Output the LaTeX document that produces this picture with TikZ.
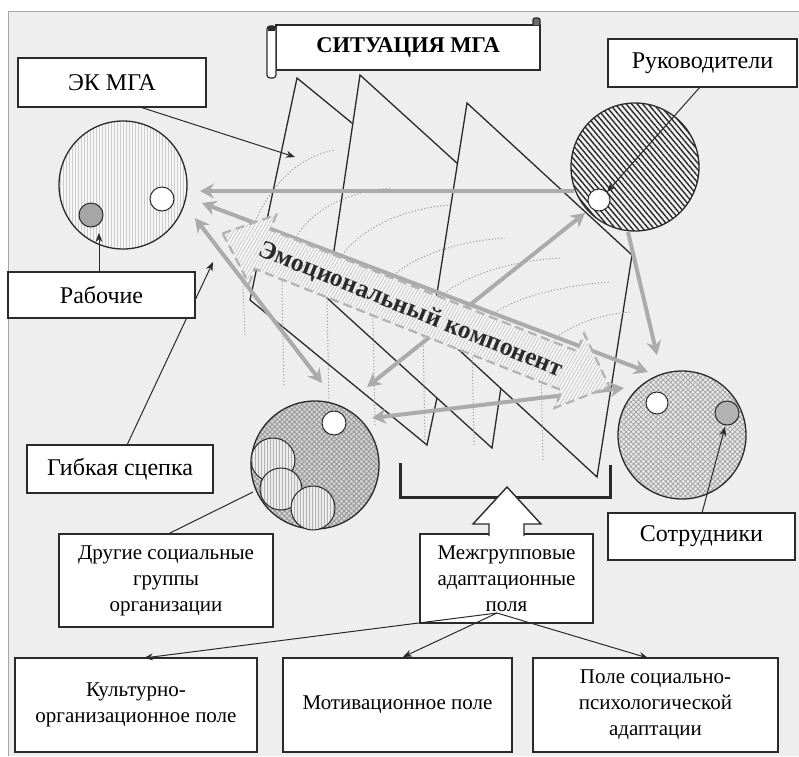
\documentclass[tikz,border=0pt]{standalone}
\usepackage{fontspec}
\setmainfont{Liberation Serif}
\usetikzlibrary{arrows.meta,patterns.meta,calc}
\definecolor{bg}{HTML}{EEEEEE}
\definecolor{ln}{HTML}{2A2A2A}
\definecolor{garr}{HTML}{ABABAB}
\begin{document}
\begin{tikzpicture}[x=1pt,y=-1pt,
  box/.style={draw=ln, line width=1.5pt, fill=white, inner sep=0pt, align=center, font=\fontsize{24}{28}\selectfont},
  mbox/.style={draw=ln, line width=1.5pt, fill=white, inner sep=0pt, align=center, font=\fontsize{21}{26}\selectfont},
  plane/.style={draw=ln, line width=1.3pt, fill=bg, line join=miter},
  wave/.style={draw=gray!75, line width=1pt, dash pattern=on 1.2pt off 2pt},
  garrow/.style={draw=garr, line width=4pt, -{Stealth[length=14pt,width=15pt]}},
  gdouble/.style={draw=garr, line width=4pt, {Stealth[length=14pt,width=15pt]}-{Stealth[length=14pt,width=15pt]}},
  blk/.style={draw=ln, line width=1pt, -{Stealth[length=9pt,width=7pt]}},
  bigcirc/.style={circle, draw=ln, line width=1.3pt, minimum size=128pt, inner sep=0pt},
  smallc/.style={circle, draw=ln, line width=1pt, inner sep=0pt},
]
\useasboundingbox (0,0) rectangle (799,756);
\fill[white] (0,0) rectangle (799,756);
\fill[bg] (8,11) rectangle (799,756);
\draw[gray!70, line width=0.8pt] (8,756) -- (8,11) -- (799,11);

% ---- planes
\draw[plane] (297,78) -- (474,223) -- (427,445) -- (250,300) -- cycle;
\draw[plane] (360,75) -- (525,225) -- (492,448) -- (327,298) -- cycle;
\draw[plane] (467,103) -- (632,255) -- (597,477) -- (432,325) -- cycle;

% ---- dotted waves
\draw[wave] (245,335) -- (243,285) .. controls (243,215) and (285,158) .. (335,150);
\draw[wave] (284,385) -- (282,290) .. controls (282,225) and (330,193) .. (392,188);
\draw[wave] (329,405) -- (327,300) .. controls (327,245) and (385,210) .. (450,205);
\draw[wave] (375,425) -- (373,315) .. controls (373,270) and (440,242) .. (505,238);
\draw[wave] (425,440) -- (423,330) .. controls (423,290) and (490,262) .. (560,258);
\draw[wave] (474,445) -- (472,345) .. controls (472,310) and (540,287) .. (610,282);
\draw[wave] (543,460) -- (541,365) .. controls (541,335) and (590,315) .. (630,312);

% ---- big circles
\node[bigcirc, preaction={fill=gray!6}, pattern={Lines[angle=90,distance=3pt,line width=0.5pt]}, pattern color=gray!40] (rab) at (123,185) {};
\node[bigcirc, preaction={fill=gray!10}, pattern={Lines[angle=-50,distance=4.2pt,line width=1.4pt]}, pattern color=ln] (ruk) at (635,167) {};
\node[bigcirc, preaction={fill=gray!35}, pattern={Hatch[angle=45,distance=3.5pt,line width=0.7pt]}, pattern color=gray!85] (dr) at (315,465) {};
\node[bigcirc, preaction={fill=gray!18}, pattern={Hatch[angle=45,distance=3.5pt,line width=0.7pt]}, pattern color=gray!75] (sot) at (682,435) {};

% ---- gray connectors
\coordinate (gRabA) at (200,191);
\coordinate (gRukA) at (574,191);
\coordinate (gRabB) at (202,203);
\coordinate (gSotB) at (648,372);
\coordinate (gRabC) at (195,218);
\coordinate (gDrC) at (322,383);
\coordinate (gRukD) at (585,213);
\coordinate (gDrD) at (367,387);
\coordinate (gDrE) at (372,418);
\coordinate (gSotE) at (624,388);
\coordinate (gRukF) at (628,232);
\coordinate (gSotF) at (657,355);
\draw[garrow] (gRukA) -- (gRabA);
\draw[gdouble] (gRabB) -- (gSotB);
\draw[gdouble] (gRabC) -- (gDrC);
\draw[gdouble] (gRukD) -- (gDrD);
\draw[gdouble] (gDrE) -- (gSotE);
\draw[garrow] (gRukF) -- (gSotF);

% ---- emotional component arrow
\begin{scope}[shift={(416,310)}, rotate=-21.6]
\path[draw=gray!60, line width=2.2pt, dash pattern=on 9pt off 5pt, preaction={fill=gray!8}, pattern={Lines[angle=60,distance=3pt,line width=.7pt]}, pattern color=gray!45]
 (-208,0) -- (-165,-37) -- (-165,-21) -- (165,-21) -- (165,-40) -- (208,0) -- (165,40) -- (165,21) -- (-165,21) -- (-165,37) -- cycle;
\end{scope}
\node[rotate=-22, font=\bfseries\fontsize{25.5}{26}\selectfont, text=ln, inner sep=0pt] (emo) at (411,310) {Эмоциональный компонент};

% ---- small circles
\node[smallc, minimum size=24pt, fill=white] (rabW) at (162,199) {};
\node[smallc, minimum size=24pt, fill=gray!70] (rabD) at (91,215) {};
\node[smallc, minimum size=22pt, fill=white] (rukW) at (599,200) {};
\node[smallc, minimum size=22pt, fill=white] (sotW) at (657,403) {};
\node[smallc, minimum size=24pt, fill=gray!60] (sotG) at (727,413) {};
\node[smallc, minimum size=24pt, fill=white] (drW) at (334,423) {};
\node[smallc, minimum size=44pt, preaction={fill=gray!15}, pattern={Lines[angle=90,distance=3pt,line width=0.6pt]}, pattern color=gray!60] (dr1) at (273,460) {};
\node[smallc, minimum size=42pt, preaction={fill=gray!15}, pattern={Lines[angle=90,distance=3pt,line width=0.6pt]}, pattern color=gray!60] (dr2) at (281,489) {};
\node[smallc, minimum size=44pt, preaction={fill=gray!15}, pattern={Lines[angle=90,distance=3pt,line width=0.6pt]}, pattern color=gray!60] (dr3) at (313,508) {};

% ---- title scroll
\node[draw=ln, line width=1.4pt, fill=white, minimum width=264pt, minimum height=45pt, inner sep=0pt, font=\bfseries\fontsize{22.5}{24}\selectfont] (sit) at (408,47.5) {СИТУАЦИЯ МГА};
\draw[ln, line width=1.2pt, fill=white, rounded corners=3pt] (267,26) rectangle (276,78);
\fill[ln] (268,26) rectangle (275,31);
\draw[ln, line width=1.2pt, fill=ln!70, rounded corners=2pt] (533,25) -- (533,18) -- (540,18) -- (540,25);

% ---- bracket
\draw[ln, line width=3pt] (400,463) -- (400,497) -- (610,497) -- (610,465);

% ---- boxes
\node[box, minimum width=188pt, minimum height=49pt] (ek) at (112,82.5) {ЭК МГА};
\node[box, minimum width=189pt, minimum height=48pt] (rukB) at (702.5,63) {Руководители};
\node[box, minimum width=187pt, minimum height=47pt] (sotB) at (701.5,536.5) {Сотрудники};
\node[mbox, minimum width=214pt, minimum height=93pt] (drB) at (166,580.5) {Другие социальные\\группы\\организации};
\node[mbox, minimum width=173pt, minimum height=89pt] (mz) at (506.5,578.5) {Межгрупповые\\адаптационные\\поля};
\node[mbox, minimum width=242pt, minimum height=94pt] (kult) at (136,705) {Культурно-\\организационное поле};
\node[mbox, minimum width=229pt, minimum height=94pt] (motiv) at (397.5,705) {Мотивационное поле};
\node[mbox, minimum width=245pt, minimum height=94pt] (pole) at (655.5,705) {Поле социально-\\психологической\\адаптации};
\draw[ln, line width=1.4pt, fill=white] (489,536) -- (489,524) -- (473,524) -- (507,487) -- (541,524) -- (524,524) -- (524,536);

% ---- black connectors
\coordinate (ekS) at (140,107);
\coordinate (ekT) at (295,157);
\draw[blk] (ekS) -- (ekT);
\node[box, minimum width=186pt, minimum height=48pt] (gib) at (120,469) {Гибкая сцепка};
\coordinate (gibS) at (127,445);
\coordinate (gibT) at (213,262);
\draw[blk] (gibS) -- (gibT);
\node[box, minimum width=187pt, minimum height=46pt] (rabB) at (101.5,295) {Рабочие};
\coordinate (rabS) at (99,272);
\coordinate (rabT) at (99,233);
\draw[blk] (rabS) -- (rabT);
\coordinate (rukS) at (700,87);
\coordinate (rukT) at (607,192);
\draw[blk] (rukS) -- (rukT);
\coordinate (sotS) at (702,513);
\coordinate (sotT) at (725,427);
\draw[blk] (sotS) -- (sotT);
\coordinate (drS) at (168,534);
\coordinate (drT) at (253,492);
\draw[ln, line width=1pt] (drS) -- (drT);

\coordinate (mzO) at (497,613);
\coordinate (kultT) at (144,658);
\coordinate (motivT) at (403,657);
\coordinate (poleT) at (648,658);
\draw[blk] (mzO) -- (kultT);
\draw[blk] (mzO) -- (motivT);
\draw[blk] (mzO) -- (poleT);
\end{tikzpicture}
\end{document}
